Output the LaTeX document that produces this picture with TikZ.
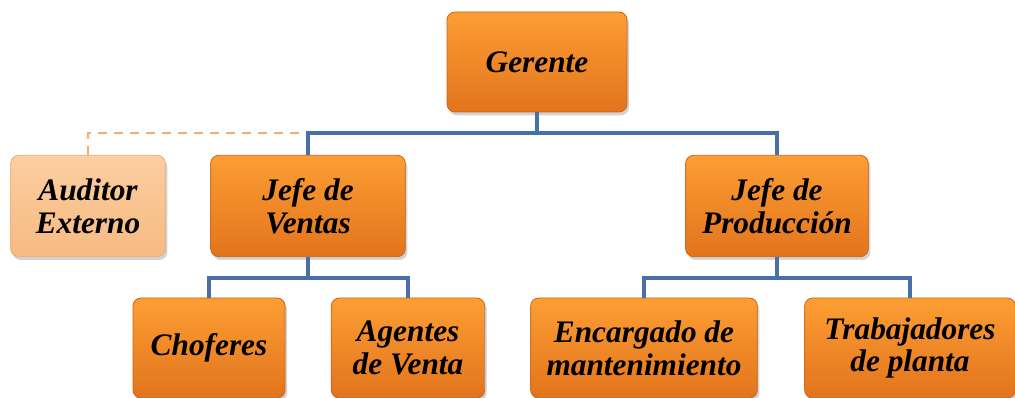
\documentclass[tikz,border=0pt]{standalone}
\usepackage{fontspec}
\setmainfont{Liberation Serif}
\usepackage{tikz}
\usetikzlibrary{positioning}
\usetikzlibrary{shadows}
\usetikzlibrary{calc}

\definecolor{boxtop}{RGB}{253,158,52}
\definecolor{boxbot}{RGB}{226,116,28}
\definecolor{boxedge}{RGB}{200,100,30}
\definecolor{lighttop}{RGB}{252,206,160}
\definecolor{lightbot}{RGB}{246,186,130}
\definecolor{orgblue}{RGB}{72,112,168}
\definecolor{dashorange}{RGB}{250,172,112}

\tikzset{
	puesto/.style={rectangle, rounded corners=6pt, draw=boxedge, line width=0.6pt,
		top color=boxtop, bottom color=boxbot, align=center, inner sep=0pt,
		font=\fontsize{23.5}{24.5}\selectfont\bfseries\itshape,
		drop shadow={opacity=0.35, shadow xshift=1.5pt, shadow yshift=-2.5pt}},
	asesor/.style={puesto, draw=lightbot!80!brown, top color=lighttop, bottom color=lightbot},
	rama/.style={draw=orgblue, line width=3pt},
	staff/.style={draw=dashorange, line width=1.6pt, dash pattern=on 7pt off 5pt}
}

\begin{document}
\begin{tikzpicture}[x=0.75pt,y=-0.75pt]
	\useasboundingbox (0,0) rectangle (1015,398);
	\clip (0,0) rectangle (1015,398);
	
	%nivel 1
	\node[puesto, minimum width=135pt, minimum height=75pt] (gerente) at (537,62) {Gerente};
	
	%nivel 2
	\node[asesor, minimum width=116pt, minimum height=76pt] (auditor) at (88,206) {Auditor\\Externo};
	\node[puesto, minimum width=146pt, minimum height=76pt] (ventas) at (308,206) {Jefe de\\Ventas};
	\node[puesto, minimum width=137pt, minimum height=76pt] (produccion) at (777,206) {Jefe de\\Producción};
	
	%nivel 3
	\node[puesto, minimum width=114pt, minimum height=75pt] (choferes) at (209,348) {Choferes};
	\node[puesto, minimum width=115pt, minimum height=75pt] (agentes) at (408,348) {Agentes\\de Venta};
	\node[puesto, minimum width=170pt, minimum height=75pt] (encargado) at (644,348) {Encargado de\\mantenimiento};
	\node[puesto, minimum width=158pt, minimum height=75pt] (trabajadores) at (910,348) {Trabajadores\\de planta};
	
	%barras
	\coordinate (barra1) at (0,133);
	\coordinate (barra2) at (0,278);
	
	%linea de staff
	\draw[staff] (auditor.north) |- (ventas.north |- barra1);
	
	%conectores
	\draw[rama] (gerente.south) -- (gerente.south |- barra1) -| (ventas.north);
	\draw[rama] (gerente.south |- barra1) -| (produccion.north);
	\draw[rama] (ventas.south) -- (ventas.south |- barra2) -| (choferes.north);
	\draw[rama] (ventas.south |- barra2) -| (agentes.north);
	\draw[rama] (produccion.south) -- (produccion.south |- barra2) -| (encargado.north);
	\draw[rama] (produccion.south |- barra2) -| (trabajadores.north);
\end{tikzpicture}
\end{document}
